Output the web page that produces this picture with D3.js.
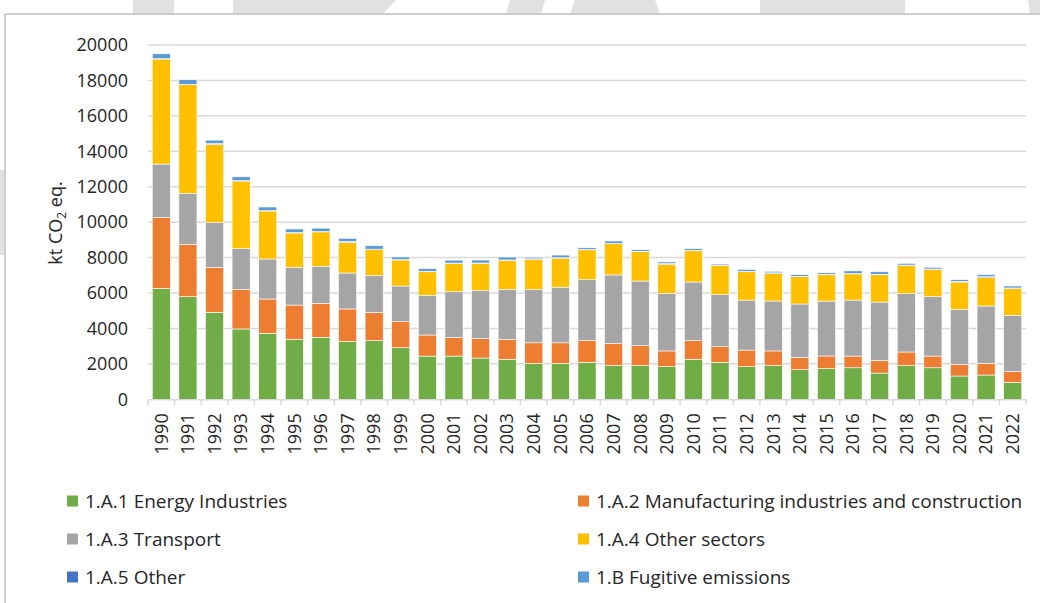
<!DOCTYPE html>
<html>
<head>
<meta charset="utf-8">
<script src="https://cdn.jsdelivr.net/npm/d3@7"></script>
<style>
  body { margin: 0; background: #fff; }
  svg { display: block; font-family: 'Open Sans', sans-serif; }
</style>
</head>
<body>
<div id="chart"></div>
<script>
const years = d3.range(1990, 2023).map(String)

// kt CO2 eq.
const energyIndustries = [6260, 5790, 4910, 3970, 3725, 3390, 3500, 3270, 3310, 2910, 2440, 2440, 2330, 2260, 2030, 2030, 2090, 1900, 1900, 1840, 2260, 2090, 1840, 1900, 1670, 1730, 1780, 1480, 1900, 1780, 1315, 1370, 960]
const manufacturing = [4010, 2960, 2540, 2240, 1935, 1930, 1900, 1830, 1600, 1470, 1190, 1060, 1110, 1130, 1160, 1160, 1220, 1240, 1125, 890, 1050, 880, 940, 830, 700, 715, 660, 720, 770, 660, 640, 660, 600]
const transport = [3010, 2880, 2520, 2290, 2260, 2130, 2100, 2030, 2065, 2015, 2240, 2570, 2690, 2820, 3010, 3140, 3440, 3880, 3650, 3255, 3310, 2935, 2820, 2820, 3010, 3100, 3160, 3290, 3290, 3350, 3125, 3235, 3180]
const otherSectors = [5925, 6130, 4420, 3820, 2710, 1940, 1950, 1730, 1470, 1470, 1330, 1600, 1545, 1635, 1710, 1640, 1690, 1765, 1655, 1640, 1765, 1660, 1600, 1540, 1540, 1485, 1480, 1540, 1600, 1545, 1540, 1600, 1525]
const other = [20, 20, 50, 20, 20, 20, 20, 60, 30, 20, 20, 20, 20, 20, 20, 20, 20, 20, 20, 40, 20, 15, 20, 50, 20, 20, 20, 20, 20, 20, 40, 60, 20]
const fugitive = [280, 260, 190, 220, 205, 205, 190, 165, 195, 150, 150, 165, 165, 165, 90, 150, 95, 130, 90, 90, 95, 60, 115, 85, 95, 90, 150, 150, 95, 95, 90, 110, 110]

const seriesNames = ['1.A.1 Energy Industries', '1.A.2 Manufacturing industries and construction', '1.A.3 Transport', '1.A.4 Other sectors', '1.A.5 Other', '1.B Fugitive emissions']
const seriesColors = ['#70ad47', '#ed7d31', '#a5a5a5', '#ffc000', '#4472c4', '#5b9bd5']
const yTicks = [0, 2000, 4000, 6000, 8000, 10000, 12000, 14000, 16000, 18000, 20000]

const seriesValues = [energyIndustries, manufacturing, transport, otherSectors, other, fugitive]
const rows = years.map((y, i) => {
    const row = {year: y}
    seriesNames.forEach((n, k) => { row[n] = seriesValues[k][i] })
    return row
})

const width = 1040
const height = 603
const plotLeft = 148
const plotRight = 1026
const plotTop = 45
const plotBottom = 399.3

const svg = d3.select('#chart').append('svg')
    .attr('width', width)
    .attr('height', height)

// watermark pieces peeking out round the chart box
const wm = svg.append('g').attr('fill', '#e1e1e1')
const wmShapes = [
    [[133, 0], [174, 0], [174, 14], [133, 14]],
    [[233, 0], [396, 0], [383, 14], [233, 14]],
    [[510, 0], [545, 0], [541, 14], [506, 14]],
    [[575, 0], [655, 0], [660, 14], [570, 14]],
    [[760, 0], [905, 0], [905, 14], [760, 14]],
    [[1028, 0], [1040, 0], [1040, 14], [1030, 14]],
    [[0, 170], [4, 170], [4, 255], [0, 255]]
]
wm.selectAll('polygon')
    .data(wmShapes)
    .enter().append('polygon')
    .attr('points', d => d.map(p => p.join(',')).join(' '))

// chart box
svg.append('rect')
    .attr('x', 5)
    .attr('y', 14)
    .attr('width', width + 10)
    .attr('height', height + 10)
    .attr('fill', '#fff')
    .attr('stroke', '#bfbfbf')
    .attr('stroke-width', 1.5)

const x = d3.scaleBand()
    .domain(years)
    .range([plotLeft, plotRight])
    .paddingInner(0.32)
    .paddingOuter(0.16)

const y = d3.scaleLinear()
    .domain([0, 20000])
    .range([plotBottom, plotTop])

// gridlines
svg.append('g')
    .selectAll('line')
    .data(yTicks.filter(d => d > 0))
    .enter().append('line')
    .attr('x1', plotLeft)
    .attr('x2', plotRight)
    .attr('y1', d => y(d))
    .attr('y2', d => y(d))
    .attr('stroke', '#d9d9d9')
    .attr('stroke-width', 1.5)

// y axis labels
const yAxis = svg.append('g')
    .attr('transform', `translate(${plotLeft - 20}, 0)`)
    .call(d3.axisLeft(y).tickValues(yTicks).tickSize(0).tickPadding(0).tickFormat(d3.format('d')))
yAxis.select('.domain').remove()
yAxis.selectAll('text')
    .attr('font-family', "'Open Sans', sans-serif")
    .attr('font-size', 18)
    .attr('fill', '#262626')

const title = svg.append('text')
    .attr('transform', 'translate(62, 223) rotate(-90)')
    .attr('text-anchor', 'middle')
    .attr('font-size', 18)
    .attr('fill', '#262626')
title.append('tspan').text('kt CO')
title.append('tspan').attr('font-size', 12).attr('dy', 4).text('2')
title.append('tspan').attr('dy', -4).text(' eq.')

// stacked bars
const stack = d3.stack().keys(seriesNames)
const layers = stack(rows)

svg.append('g')
    .selectAll('g')
    .data(layers)
    .enter().append('g')
    .attr('fill', (d, i) => seriesColors[i])
    .selectAll('rect')
    .data(d => d)
    .enter().append('rect')
    .attr('x', d => x(d.data.year))
    .attr('width', x.bandwidth())
    .attr('y', d => y(d[1]))
    .attr('height', d => y(d[0]) - y(d[1]))
    .attr('stroke', '#fff')
    .attr('stroke-width', 0.6)

// x axis
const xAxis = svg.append('g')
    .attr('transform', `translate(0, ${plotBottom})`)
    .call(d3.axisBottom(x).tickSize(0).tickPadding(0))
xAxis.select('.domain').attr('stroke', '#d9d9d9').attr('stroke-width', 1.5)
xAxis.selectAll('text')
    .attr('font-family', "'Open Sans', sans-serif")
    .attr('font-size', 18)
    .attr('fill', '#262626')
    .attr('text-anchor', 'end')
    .attr('dy', '0.35em')
    .attr('transform', 'translate(0, 14) rotate(-90)')

// category boundary ticks
svg.append('g')
    .selectAll('line')
    .data(years.concat(['end']))
    .enter().append('line')
    .attr('x1', (d, i) => plotLeft + i * x.step())
    .attr('x2', (d, i) => plotLeft + i * x.step())
    .attr('y1', plotBottom)
    .attr('y2', plotBottom + 6)
    .attr('stroke', '#d9d9d9')
    .attr('stroke-width', 1.5)

// legend
const legendPos = [[67, 501], [578, 501], [67, 539], [578, 539], [67, 577], [578, 577]]
const legend = svg.append('g')
    .selectAll('g')
    .data(seriesNames)
    .enter().append('g')
    .attr('transform', (d, i) => `translate(${legendPos[i][0]}, ${legendPos[i][1]})`)
legend.append('rect')
    .attr('x', 0)
    .attr('y', -5.5)
    .attr('width', 11)
    .attr('height', 11)
    .attr('fill', (d, i) => seriesColors[i])
legend.append('text')
    .attr('x', 18)
    .attr('dy', '0.35em')
    .attr('font-size', 19)
    .attr('fill', '#262626')
    .text(d => d)
</script>
</body>
</html>
